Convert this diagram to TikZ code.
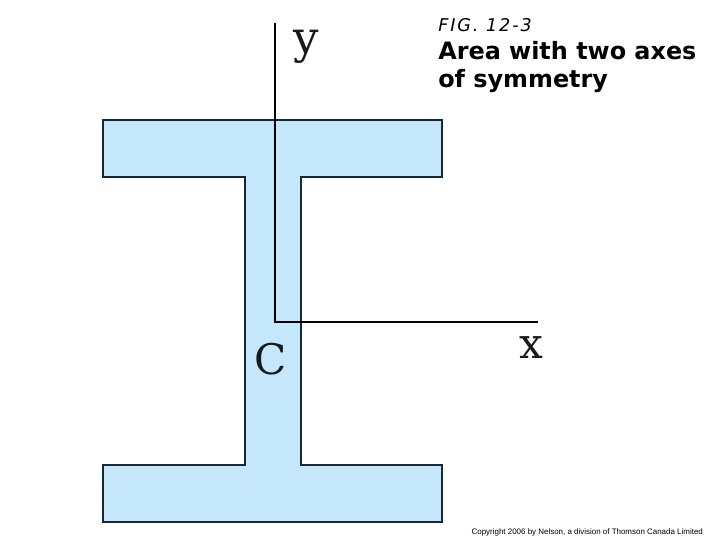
\documentclass[tikz,border=0pt]{standalone}
\usepackage{fontspec}
\setsansfont{DejaVu Sans}
\newfontfamily\copyfont{Liberation Sans}
\newfontfamily\axisfont{DejaVu Serif}
\newfontfamily\figfont[LetterSpace=11,ItalicFont={DejaVu Sans Oblique}]{DejaVu Sans}
\definecolor{beamblue}{RGB}{197,231,252}
\definecolor{beamline}{RGB}{25,40,55}
\tikzset{
  axisline/.style={black, line width=1.4pt},
  axislabel/.style={font=\axisfont\fontsize{30}{30}\selectfont, text=black!90, inner sep=0pt},
  titletext/.style={anchor=base west, inner sep=0pt, font=\sffamily\bfseries\fontsize{17}{17}\selectfont},
}
\begin{document}
\begin{tikzpicture}
\useasboundingbox (0,0) rectangle (18,13.5);

\fill[white] (0,0) rectangle (18,13.5);
\draw[fill=beamblue, draw=beamline, line width=1.3pt]
  (2.575,10.5) -- (11.05,10.5) -- (11.05,9.075) -- (7.525,9.075) -- (7.525,1.875)
  -- (11.05,1.875) -- (11.05,0.45) -- (2.575,0.45) -- (2.575,1.875) -- (6.125,1.875)
  -- (6.125,9.075) -- (2.575,9.075) -- cycle;

\coordinate (center) at (6.875,5.45);
\coordinate (ytop) at (6.875,12.925);
\coordinate (xend) at (13.45,5.45);
\draw[axisline] (ytop) -- (center) -- (xend);

\node[axislabel, anchor=base, font=\axisfont\fontsize{32}{32}\selectfont] (ylabel) at (7.66,12.17) {y};
\node[axislabel, anchor=base] (xlabel) at (13.28,4.525) {x};
\node[axislabel, anchor=base] (clabel) at (6.76,4.125) {C};

\node[anchor=base west, inner sep=0pt, font=\figfont\itshape\fontsize{12.5}{13}\selectfont] (fig) at (10.95,12.7) {FIG. 12-3};
\node[titletext] (title1) at (10.95,12.0) {Area with two axes};
\node[titletext] (title2) at (10.95,11.3) {of symmetry};
\node[anchor=base east, inner sep=0pt, font=\copyfont\fontsize{5.66}{7}\selectfont] (copy) at (17.58,0.14) {Copyright 2006 by Nelson, a division of Thomson Canada Limited};
\end{tikzpicture}
\end{document}
